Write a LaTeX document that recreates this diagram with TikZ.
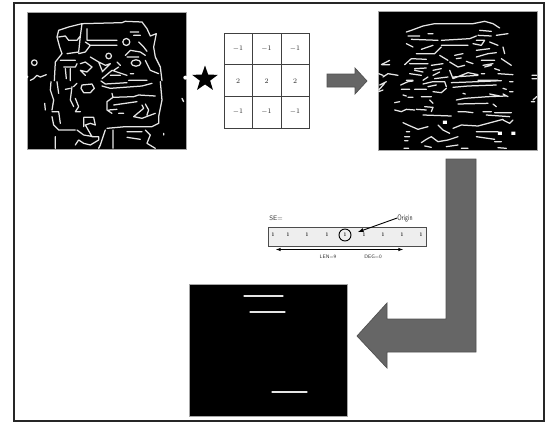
\documentclass[tikz,border=0pt]{standalone}
\usetikzlibrary{shapes.geometric}
\definecolor{arrowgray}{HTML}{666666}
\definecolor{arrowedge}{HTML}{505050}
\definecolor{barfill}{HTML}{EEEEEE}
\tikzset{
    edgeline/.style={white!90!black, line width=1.25pt, line join=round, line cap=round},
    picframe/.style={fill=black, draw=gray!70, line width=0.6pt},
    bigarrow/.style={fill=arrowgray, draw=arrowedge, line width=0.7pt},
    cellnum/.style={font=\fontsize{7}{8}\selectfont, text=black!85},
    barnum/.style={font=\sffamily\bfseries\fontsize{5}{6}\selectfont, text=black!85},
    barlabel/.style={font=\sffamily\fontsize{5}{6}\selectfont, text=black!80}
}
\begin{document}
\begin{tikzpicture}[x=1pt, y=-1pt]
    \useasboundingbox (0, 0) rectangle (547, 423);
    \fill[white] (0, 0) rectangle (547, 423);
    \draw[line width=2pt, black!85] (14, 2.5) rectangle (543.5, 421);

    % edge map
    \draw[picframe] (27, 12) rectangle (186, 149.5);
    \begin{scope}[shift={(27, 12)}, x=0.3333pt, y=-0.3333pt]
        \draw[edgeline]
            (165,35) -- (285,32) -- (295,28) -- (345,30) -- (360,50) -- (370,72) -- (388,65) -- (380,105) -- (385,135) -- (400,165) -- (405,206)
            (165,35) -- (125,45) -- (95,55) -- (90,75) -- (98,105) -- (105,125) -- (85,150) -- (82,206)
            (95,75) -- (115,72) -- (125,85) -- (150,85) -- (160,72) -- (165,35)
            (160,72) -- (155,120) -- (120,125)
            (180,50) -- (180,85) -- (270,85)
            (175,90) -- (190,100) -- (175,120) -- (155,125)
            (190,100) -- (270,100)
            (310,60) -- (335,60) (320,70) -- (340,70)
            (335,90) -- (350,105) -- (360,118)
            (295,130) -- (310,115) -- (340,120) -- (355,130)
            (300,135) -- (335,135)
            (10,205) -- (20,200) -- (30,190) -- (40,195) -- (58,188)
            (100,145) -- (145,145)
            (110,165) -- (145,165) -- (150,155)
            (115,170) -- (118,200)
            (130,170) -- (130,206)
            (190,135) -- (215,150) -- (235,160) -- (250,155) -- (225,180)
            (215,150) -- (225,175)
            (160,155) -- (175,150) -- (195,165) -- (180,180) -- (160,175) -- (175,190)
            (225,200) -- (255,175) -- (300,190)
            (260,175) -- (275,165) (270,150) -- (280,160)
            (250,190) -- (280,190)
            (355,145) -- (370,175) -- (395,185)
            (310,185) -- (320,185)
            (305,205) -- (360,205)
            (298,90) circle[radius=3.5pt]
            (245,132) circle[radius=2.8pt]
            (22,152) circle[radius=2.8pt]
            (327,153) circle[x radius=4.8pt, y radius=3.2pt];
        \fill[white] (0,195) circle[radius=1.5pt] (475,197) circle[radius=2pt];
    \end{scope}
    \begin{scope}[shift={(27, 80)}, x=0.3333pt, y=-0.3333pt]
        \draw[edgeline]
            (72,5) -- (70,30) -- (80,60) -- (75,90)
            (90,5) -- (95,40)
            (115,28) -- (130,25)
            (135,20) -- (130,60) -- (140,80)
            (150,10) -- (140,20)
            (145,55) -- (155,80) -- (145,95) -- (160,95)
            (165,15) -- (195,12) -- (202,25) -- (190,38) -- (170,38) -- (162,25) -- cycle
            (222,3) -- (235,12) -- (300,8)
            (225,18) -- (250,25) -- (345,18) -- (375,10)
            (400,5) -- (405,60) -- (395,110) -- (395,130) -- (375,140)
            (255,40) -- (258,52) -- (240,65) -- (240,90) -- (255,100)
            (258,52) -- (320,50) -- (335,45) -- (385,48)
            (260,75) -- (330,65)
            (245,90) -- (270,88) (275,100) -- (290,100)
            (345,75) -- (350,85) -- (320,110) -- (345,115) -- (385,100)
            (355,72) -- (365,90) -- (360,105)
            (53,70) -- (55,90)
            (75,95) -- (95,95) -- (100,130)
            (75,110) -- (80,135) -- (95,150) -- (145,150)
            (170,112) -- (200,112) -- (205,135) -- (190,130) -- (175,135) -- (195,170) -- (215,170) -- (215,180)
            (170,115) -- (170,140)
            (150,150) -- (170,165) -- (200,170)
            (145,195) -- (155,180) -- (170,190) -- (190,195) -- (215,180)
            (235,150) -- (220,195) -- (215,205)
            (240,145) -- (295,140) -- (375,140)
            (258,150) -- (258,205)
            (300,155) -- (345,155) (300,172) -- (340,178)
            (355,150) -- (370,165) -- (360,190) -- (385,205)
            (85,170) -- (85,205)
            (410,160) -- (410,165)
            (465,55) -- (470,65);
    \end{scope}

    % kernel
    \foreach \r/\ry/\val in {1/49/$-1$, 2/81/2, 3/112/$-1$}
        \foreach \c/\cx in {1/238, 2/266.5, 3/295}
            \node[cellnum, inner sep=0pt] (cell\r\c) at (\cx, \ry) {\val};
    \draw[black!75, line width=0.7pt] (224, 33) rectangle (309, 128)
        (252.5, 33) -- (252.5, 128) (281, 33) -- (281, 128)
        (224, 64.5) -- (309, 64.5) (224, 96.5) -- (309, 96.5);
    \node[star, star points=5, star point ratio=2.5, fill=black, inner sep=0pt, minimum size=27pt] (convstar) at (205, 79) {};

    \draw[bigarrow] (327, 74) -- (355, 74) -- (355, 68) -- (367, 81) -- (355, 94) -- (355, 87) -- (327, 87) -- cycle;

    % filtered map
    \draw[picframe] (378, 11.5) rectangle (537, 150);
    \begin{scope}[shift={(378, 12)}, x=0.3333pt, y=-0.3333pt]
        \draw[edgeline]
            (85,60) -- (100,55) -- (135,42) -- (170,35) -- (285,35) -- (320,28) -- (345,35) -- (365,48)
            (90,72) -- (125,72) (100,82) -- (180,85) (190,85) -- (275,80) -- (295,72)
            (305,55) -- (340,58) (150,65) -- (165,65)
            (85,95) -- (105,105)
            (130,112) -- (165,100) (190,100) -- (270,100)
            (115,125) -- (170,125) -- (190,105)
            (295,85) -- (320,85) -- (310,100) -- (285,95)
            (300,70) -- (340,72) (335,90) -- (360,100) (355,70) -- (390,65)
            (295,115) -- (335,110) (295,135) -- (330,125) -- (355,122)
            (375,105) -- (380,125)
            (10,158) -- (35,145) (12,158) -- (35,158)
            (80,158) -- (100,140) -- (145,142) (95,155) -- (150,155) (110,170) -- (145,168)
            (185,130) -- (210,145) (230,130) -- (255,125) (235,140) -- (250,138)
            (160,160) -- (195,155) (215,150) -- (240,165) -- (260,160) (265,148) -- (285,155)
            (310,145) -- (350,145) (315,160) -- (345,155) (320,165) -- (340,160)
            (370,140) -- (400,160)
            (2,185) -- (15,190) (15,195) -- (30,185) -- (60,190)
            (95,185) -- (130,190) (110,175) -- (135,180)
            (165,175) -- (190,170) (165,190) -- (185,180)
            (215,175) -- (225,200) -- (270,182) -- (300,188) (225,195) -- (300,190)
            (300,205) -- (360,205) (310,185) -- (320,185)
            (350,170) -- (365,175) (360,185) -- (405,188)
            (85,205) -- (105,205) (135,205) -- (150,195) (170,200) -- (210,195)
            (462,190) -- (476,190) (462,200) -- (476,200);
    \end{scope}
    \begin{scope}[shift={(378, 80)}, x=0.3333pt, y=-0.3333pt]
        \draw[edgeline]
            (2,30) -- (20,10) (5,15) -- (25,5) (2,35) -- (15,30)
            (68,15) -- (90,5) -- (105,3) (70,28) -- (95,28) (110,28) -- (145,28)
            (135,12) -- (165,5) -- (200,5) -- (205,20)
            (150,20) -- (175,15) (165,35) -- (190,38) -- (205,25)
            (220,8) -- (300,5) -- (370,2) (225,22) -- (270,18) -- (355,15)
            (375,25) -- (385,28) (395,5) -- (405,5) (395,35) -- (405,35)
            (75,45) -- (85,48) (90,52) -- (105,52)
            (130,50) -- (160,50) (155,60) -- (165,70) (50,68) -- (65,65)
            (140,80) -- (165,82) -- (160,95) (255,40) -- (262,42)
            (235,60) -- (260,55) -- (330,50) -- (385,48)
            (240,72) -- (330,70) (335,42) -- (365,48) (375,42) -- (390,50) (345,72) -- (355,80)
            (50,90) -- (70,95) -- (85,88) -- (110,90) (115,88) -- (145,90)
            (240,95) -- (260,95) -- (285,98) (315,95) -- (340,95)
            (350,98) -- (400,98) (325,105) -- (395,110)
            (135,105) -- (220,108)
            (75,128) -- (90,135) -- (120,148) -- (150,140)
            (180,135) -- (195,150) -- (215,160)
            (225,145) -- (250,135) -- (300,138) -- (375,118)
            (375,120) -- (395,130) -- (405,120)
            (295,155) -- (360,155) (295,170) -- (350,178)
            (85,155) -- (95,155) (80,170) -- (95,170) (80,182) -- (90,182) (78,205) -- (92,205)
            (130,188) -- (145,178) -- (160,170) -- (180,185) -- (210,180) -- (240,170)
            (140,198) -- (160,202) (205,200) -- (240,195) (250,205) -- (270,205)
            (350,185) -- (370,185) (360,203) -- (385,205)
            (465,60) -- (476,50) (460,65) -- (470,65);
        \fill[white] (195,122) rectangle (207,132) (360,155) rectangle (372,165) (400,155) rectangle (412,165);
    \end{scope}

    % turn arrow
    \draw[bigarrow] (446, 159) -- (476, 159) -- (476, 352) -- (387, 352) -- (387, 368) -- (357, 336)
        -- (387, 303) -- (387, 319) -- (446, 319) -- cycle;

    % structuring element
    \draw[black!70, fill=barfill, line width=0.7pt] (268, 227) rectangle (426, 246);
    \foreach \i/\dx in {1/273, 2/288, 3/307, 4/327, 5/345, 6/364, 7/383, 8/402, 9/421}
        \node[barnum, inner sep=0pt] (bit\i) at (\dx, 235) {1};
    \node[draw=black, circle, line width=0.9pt, minimum size=12pt, inner sep=0pt] (origincirc) at (bit5) {};
    \node[barlabel, inner sep=0pt, font=\sffamily\fontsize{6.5}{7}\selectfont] (selabel) at (276, 218) {SE=};
    \node[barlabel, inner sep=0pt, xscale=0.7, font=\sffamily\fontsize{8}{9}\selectfont] (originlabel) at (405, 218) {Origin};
    \node[barlabel, inner sep=0pt] (lenlabel) at (328, 257) {LEN=9};
    \node[barlabel, inner sep=0pt] (deglabel) at (373, 257) {DEG=0};
    \coordinate (origintip) at (358, 232);
    \coordinate (lenleft) at (276, 249.5);
    \coordinate (lenright) at (403, 249.5);
    \draw[-latex, line width=0.9pt] (originlabel.west) -- (origintip);
    \draw[latex-latex, line width=0.6pt] (lenleft) -- (lenright);

    % result
    \draw[picframe] (189, 284) rectangle (347, 416);
    \draw[edgeline] (244, 296) -- (283, 296) (250, 312) -- (285, 312) (272, 392) -- (307, 392);
\end{tikzpicture}
\end{document}
